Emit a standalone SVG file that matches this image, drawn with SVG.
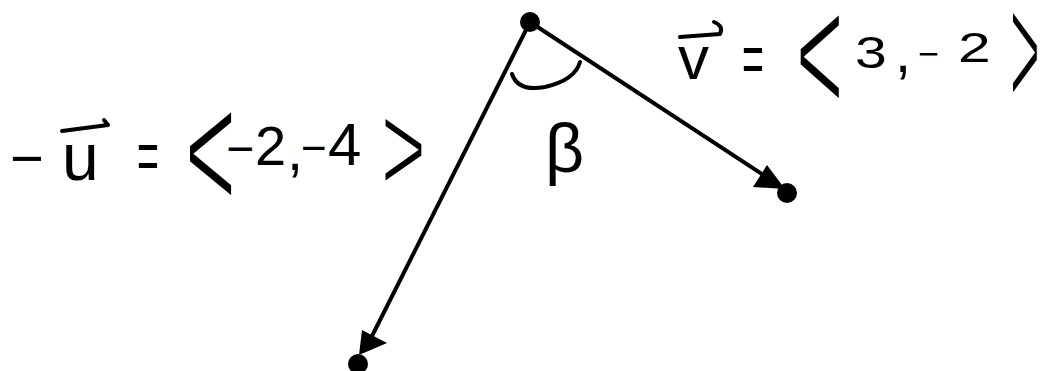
<svg xmlns="http://www.w3.org/2000/svg" width="1044" height="371" viewBox="0 0 1044 371">
<style>
.t{font-family:"Liberation Sans",Arial,sans-serif;fill:#000}
.br{stroke:#fff;stroke-width:1.1px}
.ln{stroke:#000;stroke-width:4;fill:none;stroke-linecap:round;stroke-linejoin:round}
.hd{fill:#000}
</style>
<rect width="1044" height="371" fill="#fff"/>
<g id="connectors">
<line class="ln" x1="530" y1="22" x2="774" y2="182"/>
<polygon class="hd" points="767,165 753,187 785,189"/>
<line class="ln" x1="530" y1="22" x2="370" y2="340"/>
<polygon class="hd" points="362,330 387,343 359,355"/>
<path class="ln" d="M512,74 Q518,92 545,87 Q575,80 580,62"/>
</g>
<g id="origin"><circle cx="530" cy="22" r="10"/></g>
<g id="v-end"><circle cx="787" cy="193" r="10"/></g>
<g id="u-end"><circle cx="358" cy="364" r="10"/></g>
<g id="label-beta"><text class="t" x="545" y="172" font-size="68">β</text></g>
<g id="label-u" font-size="58">
<text class="t" x="10" y="178">−</text>
<text class="t" x="62" y="180" font-size="66">u</text>
<path class="ln" d="M62,131 L108,125 L104,120"/>
<text class="t" transform="translate(137,180) scale(0.75,1.4)" font-size="50">=</text>
<text class="t br" transform="translate(185,210) scale(1.25,2.45)" font-size="70">&lt;</text>
<text class="t" x="226" y="165" font-size="48">−</text>
<text class="t" x="255" y="165" font-size="56">2</text>
<text class="t" x="287" y="170">,</text>
<text class="t" x="301" y="163" font-size="44">−</text>
<text class="t" x="328" y="165" font-size="60">4</text>
<text class="t br" transform="translate(381,192) scale(1.28,2.14)" font-size="60">&gt;</text>
</g>
<g id="label-v" font-size="58">
<text class="t" x="678" y="79" font-size="62">v</text>
<path class="ln" d="M680,37 L720,34 Q724,26 714,22"/>
<text class="t" transform="translate(742,83) scale(0.75,1.4)" font-size="50">=</text>
<text class="t br" transform="translate(796,113) scale(1.16,2.45)" font-size="70">&lt;</text>
<text class="t" transform="translate(855,68) scale(1.3,1)" font-size="44">3</text>
<text class="t" x="895" y="72">,</text>
<text class="t" x="918" y="66" font-size="36">−</text>
<text class="t" transform="translate(958,62) scale(1.4,1)" font-size="42">2</text>
<text class="t br" transform="translate(1010,107) scale(0.85,2.76)" font-size="60">&gt;</text>
</g>
</svg>
